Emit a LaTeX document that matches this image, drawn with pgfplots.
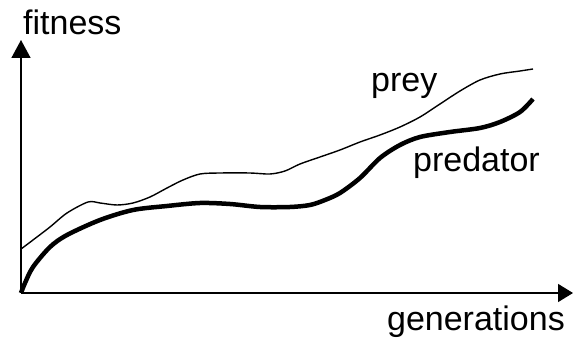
\documentclass[border=0pt]{standalone}
\usepackage{pgfplots}
\pgfplotsset{compat=1.18}
\usepackage{fontspec}
\setmainfont{Liberation Sans}
\usetikzlibrary{arrows.meta}
\begin{document}
\begin{tikzpicture}
\begin{axis}[
  scale only axis, width=551pt, height=253pt,
  at={(0pt,0pt)}, anchor=south west,
  xmin=21, xmax=572, ymin=0, ymax=253,
  hide axis,
  clip=false,
]
\draw[line width=1.6pt, -{Triangle[length=15pt,width=18pt]}] (axis cs:21,0) -- (axis cs:573,0);
\draw[line width=1.6pt, -{Triangle[length=18pt,width=19pt]}] (axis cs:21,0) -- (axis cs:21,253);
\addplot[black, line width=1.4pt, smooth, tension=0.5] coordinates {
(21,44) (33,53) (50,66) (67,80) (88,91) (100,90) (117,88) (133,90) (150,96)
(167,105) (183,113) (200,119) (220,120) (250,120) (270,119) (285,122) (300,129)
(320,136) (340,143) (360,151) (380,158) (400,166) (420,176) (440,189) (460,202)
(480,213) (500,219) (520,222) (533,224)};
\addplot[black, line width=4.5pt, smooth, tension=0.5, line cap=butt] coordinates {
(21,0) (25,10) (33,26) (50,46) (67,58) (100,73) (133,83) (167,87) (200,90)
(230,89) (260,86) (290,86) (310,88) (325,93) (340,100) (360,115) (380,135)
(400,148) (420,156) (450,161) (480,165) (500,171) (520,181) (533,194)};
\node[anchor=base west, inner sep=0pt, font=\fontsize{34}{40}\selectfont] at (axis cs:23,258) {fitness};
\node[anchor=base west, inner sep=0pt, font=\fontsize{34}{40}\selectfont] at (axis cs:371,201) {prey};
\node[anchor=base west, inner sep=0pt, font=\fontsize{34}{40}\selectfont] at (axis cs:413,121) {predator};
\node[anchor=base east, inner sep=0pt, font=\fontsize{34}{40}\selectfont] at (axis cs:565,-38) {generations};
\end{axis}
\pgfresetboundingbox
\useasboundingbox (-21pt,-49pt) rectangle (552pt,293pt);
\end{tikzpicture}
\end{document}
